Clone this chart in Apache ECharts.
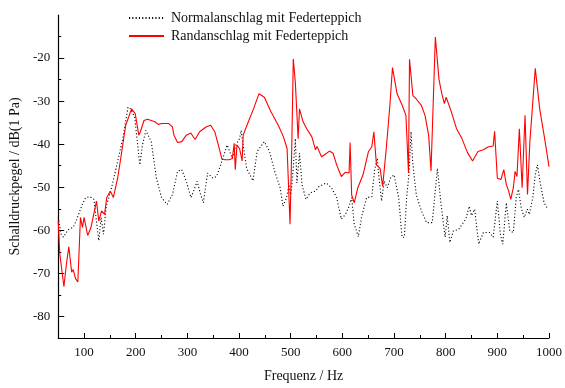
<!DOCTYPE html>
<html><head><meta charset="utf-8">
<script src="https://cdn.jsdelivr.net/npm/echarts@6/dist/echarts.min.js"></script>
<style>html,body{margin:0;padding:0;background:#fff}#c{width:565px;height:388px}</style>
</head><body><div id="c"></div>
<script>
const seriesNames = ['Normalanschlag mit Federteppich', 'Randanschlag mit Federteppich'];
const xMajorTicks = [100,200,300,400,500,600,700,800,900,1000];
const xMinorTicks = [150,250,350,450,550,650,750,850,950];
const yMajorTicks = [-80,-70,-60,-50,-40,-30,-20];
const yMinorTicks = [-75,-65,-55,-45,-35,-25,-15];

const normFreq = [50,55.5,60,69,79,86,96.5,103,111.6,119,128.5,133,137.6,143,148,154.6,165,175,185,190,198,208,213,219.6,230,240,250,260.7,271,281,289,298,307,312,319,325.6,331,339,349.6,356.4,366.7,377,387,394,401,404,414.6,427,435,449,459,469,479.5,485,492,496.6,500,503.5,509,512,517,522,529.5,537.7,548,555,568.5,579,589,598,606,613,618,623,631,637,647,657,662.5,667.6,671,676,681,687,693,700,709,715.5,720,724.5,729,733,736,743,753,763,774,784,791,799,803,808,815,825,839,845.5,850,856,864,873,885,892,900,906,910.5,917.4,924,931,936.5,941,946,952,958,962,968.6,973.4,977.6,983.6,990.5,996];
const normLevel = [-57,-60.9,-61.6,-59.9,-59.3,-57.4,-54,-52.4,-52.2,-52.8,-62.4,-57,-60.9,-54.4,-52.4,-49.4,-44,-38.7,-31.4,-31.8,-33.7,-44.8,-40.2,-36.8,-39.4,-47.9,-52.4,-54,-51.7,-46.3,-45.9,-48.6,-52.4,-50.9,-48.6,-51.7,-53.6,-46.7,-47.9,-47.5,-44,-40.2,-43.3,-40.2,-38.7,-36.8,-45.6,-48.5,-41.7,-39.4,-41.7,-46.3,-50.1,-54.4,-52.4,-49.4,-51.7,-47.9,-38.7,-49,-42.1,-49.4,-52.8,-51.3,-50.9,-49.8,-49,-50.1,-52.4,-57.4,-56.3,-54.4,-52.4,-58.6,-61.5,-57,-52.4,-52.2,-45.9,-43.3,-47.9,-53.2,-48.6,-50.1,-47.9,-47.1,-52.4,-61.6,-61.6,-52.4,-46.7,-37.1,-44,-51.7,-55.5,-58.2,-58.2,-45.6,-54,-61.6,-56.6,-62.8,-60.1,-59.8,-57.4,-54.4,-56.6,-55.1,-63.2,-60.5,-60.5,-61.6,-53.2,-61,-63.2,-53.6,-60.1,-60.5,-52.4,-50.5,-54.7,-57,-55.1,-56.3,-52.4,-47.1,-44.8,-49.4,-53.6,-54.7];

const randFreq = [50,53,57,61,66,70.5,76,79,83.5,88,93,97,100,107,113.5,124,128.5,134,139.6,144,151,156.7,165,172,180.6,192,199,206,209,216,223,237,243.6,250,264,271,274,281,289,298,306.5,315,323.6,336,345,353,360,367,373.5,380.5,387,390.6,392.7,396,401,406,408,418,428,438.5,449,462,476,486,493,498.7,502,505,509,514.4,517,524,531,541,548,551,559.6,565,575,582,589,598,606,613,615,618,623,630,640,650.5,657,661,666,673,678,685,692,697,706,716,723,728,730,736.5,743,753,760,767,771.6,780,787,792,797.5,801,811,821,831.5,842,852,862.5,872.8,883,892,894.7,900,907,912.5,917.4,922,926,931,934.4,938,942.6,948,953.6,958.4,963,973.4,982,992.5,1000];
const randLevel = [-57.8,-65.4,-69.3,-73.1,-67.7,-63.8,-69.7,-69.1,-71.2,-72,-57,-59.3,-57,-61.2,-59.3,-53.2,-57.8,-55.5,-56.3,-52.4,-50.9,-52.4,-47.9,-42.5,-35.6,-31.8,-32.9,-37.9,-37.1,-34.5,-34.2,-34.8,-35.4,-35.2,-35.2,-36,-37.9,-39.6,-39.4,-37.9,-37.4,-38.9,-37.1,-36,-35.6,-37.1,-40.2,-43.5,-43.6,-43.6,-43.3,-39.8,-45.9,-40.2,-41,-43.9,-37.9,-34.8,-31.8,-28.3,-29.1,-32.5,-35.6,-38.3,-41,-58.6,-41.3,-20.2,-25.7,-38.7,-31.8,-34.8,-36.4,-38.3,-41.3,-40.5,-42.9,-42.5,-41.6,-42.1,-44.8,-47.5,-46.5,-46.7,-39.6,-51.8,-53.6,-50.1,-47.1,-41.7,-40.6,-37.1,-44.8,-45.6,-49.8,-41,-31,-22.2,-28.3,-31,-33.3,-46.7,-20.3,-28.7,-29.5,-31,-33.3,-37.9,-46.2,-15.1,-24.9,-28,-30.6,-29.1,-32.5,-36.4,-38.7,-41.9,-43.9,-41.7,-41.3,-40.6,-40.4,-37,-47.9,-48.2,-45.9,-49.4,-50.9,-52.8,-50.1,-46.3,-47.5,-36.4,-50.1,-33.3,-51.7,-39.4,-22.4,-31.8,-39.4,-45.2];

const zip = (xs, ys) => xs.map((x, i) => [x, ys[i]]);
const FONT = 'Liberation Serif';
const chart = echarts.init(document.getElementById('c'));
const xBase = {type:'value', min:50, max:1000, splitLine:{show:false}};
const yBase = {type:'value', min:-85, max:-10, splitLine:{show:false}};
chart.setOption({
  animation:false,
  backgroundColor:'#fff',
  grid:{left:52, right:11, top:15, bottom:47},
  legend:{
    orient:'vertical', left:123, top:6, itemWidth:35, itemHeight:14, itemGap:4,
    textStyle:{fontFamily:FONT, fontSize:14, color:'#111', padding:[0,0,0,2]},
    itemStyle:{opacity:0},
    data:seriesNames
  },
  xAxis:[
    Object.assign({}, xBase, {
      name:'Frequenz / Hz', nameLocation:'middle', nameGap:31,
      nameTextStyle:{fontFamily:FONT, fontSize:14, color:'#111'},
      axisLine:{show:true, lineStyle:{color:'#000', width:1.2}},
      axisTick:{show:true, inside:true, length:5, customValues:xMajorTicks, lineStyle:{color:'#000'}},
      axisLabel:{customValues:xMajorTicks, formatter:v => String(v), fontFamily:FONT, fontSize:13, color:'#111', margin:8}
    }),
    Object.assign({}, xBase, {
      position:'bottom',
      axisLine:{show:false},
      axisTick:{show:true, inside:true, length:3, customValues:xMinorTicks, lineStyle:{color:'#000'}},
      axisLabel:{show:false}
    })
  ],
  yAxis:[
    Object.assign({}, yBase, {
      name:'Schalldruckpegel / dB(1 Pa)', nameLocation:'middle', nameGap:32,
      nameTextStyle:{fontFamily:FONT, fontSize:14, color:'#111'},
      axisLine:{show:true, lineStyle:{color:'#000', width:1.2}},
      axisTick:{show:true, inside:true, length:6, customValues:yMajorTicks, lineStyle:{color:'#000'}},
      axisLabel:{customValues:yMajorTicks, fontFamily:FONT, fontSize:13, color:'#111', margin:8}
    }),
    Object.assign({}, yBase, {
      position:'left',
      axisLine:{show:false},
      axisTick:{show:true, inside:true, length:3, customValues:yMinorTicks, lineStyle:{color:'#000'}},
      axisLabel:{show:false}
    })
  ],
  series:[
    {name:seriesNames[0], type:'line', symbol:'none', data:zip(normFreq, normLevel),
     lineStyle:{color:'#000', width:1.1, type:[1.1,2.2]}, itemStyle:{color:'#000'}},
    {name:seriesNames[1], type:'line', symbol:'none', data:zip(randFreq, randLevel),
     lineStyle:{color:'#ff0000', width:1.1}, itemStyle:{color:'#ff0000'}}
  ]
});
</script></body></html>
